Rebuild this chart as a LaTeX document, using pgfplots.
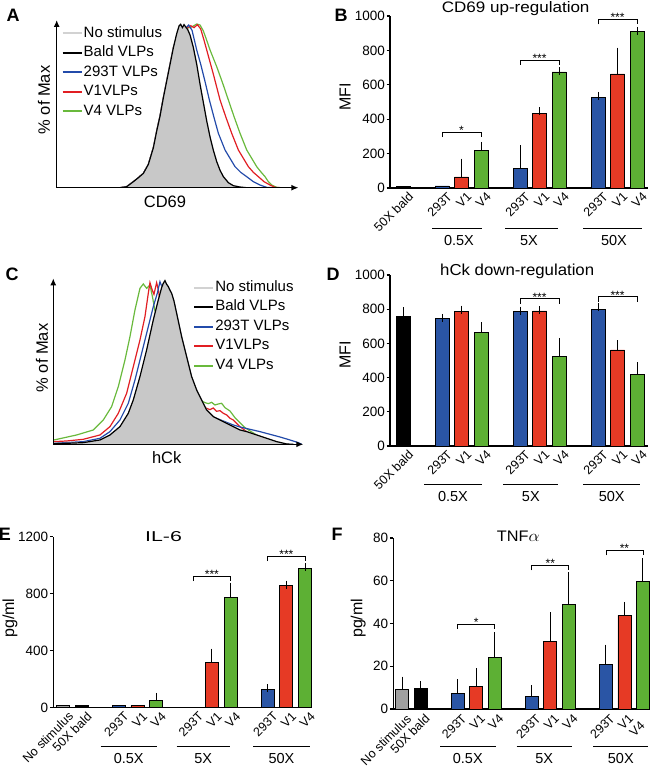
\documentclass[border=0pt]{standalone}
\usepackage{fontspec}
\setmainfont{Liberation Sans}
\usepackage{graphicx}
\usepackage{pgfplots}
\pgfplotsset{compat=1.18}
\usetikzlibrary{arrows.meta}
\definecolor{cblue}{RGB}{42,85,165}
\definecolor{cred}{RGB}{230,58,37}
\definecolor{cgreen}{RGB}{93,176,52}
\definecolor{cgray}{RGB}{160,160,160}
\definecolor{hblue}{RGB}{35,75,170}
\definecolor{hred}{RGB}{225,30,35}
\definecolor{hgreen}{RGB}{105,185,60}
\definecolor{hfill}{RGB}{200,200,200}
\definecolor{hline}{RGB}{210,210,210}
\newcommand\lf{\bfseries\fontsize{18}{19}\selectfont}
\newcommand\gf{\fontsize{14.5}{16}\selectfont}
\newcommand\yf{\fontsize{16}{17}\selectfont}
\newcommand\hlf{\fontsize{16.5}{18}\selectfont}
\newcommand\legf{\fontsize{15}{16}\selectfont}
\newcommand\starfont{\fontsize{12}{12}\selectfont}
\newcommand\ytf{\fontsize{13.5}{14}\selectfont}
\newcommand\xtf{\fontsize{12.5}{13}\selectfont}
\newcommand\ttf{\fontsize{16}{17}\selectfont}
\pgfplotsset{
  hist/.style={scale only axis, axis lines=left, xtick=\empty, ytick=\empty, ymin=0,
    axis on top,
    axis line style={line width=1.3pt, -{Latex[length=7pt,width=6pt]}},
    legend image code/.code={\draw[#1] (0pt,0pt) -- (19pt,0pt);},
    legend cell align=left,
    every axis plot/.append style={line width=1.2pt, no marks}},
  bars/.style={scale only axis, axis x line*=bottom, axis y line*=left,
    x axis line style={-}, y axis line style={-},
    axis line style={line width=1.2pt},
    ymin=0, clip=false,
    tick align=outside, major tick length=3.5pt,
    ytick style={line width=1.2pt, black}, xtick style={draw=none},
    yticklabel style={font=\ytf, inner sep=1.5pt},
    xticklabel style={font=\xtf, rotate=45, anchor=north east, inner sep=0.5pt, xshift=4pt, yshift=-2.5pt},
    /pgf/number format/assume math mode=true,
    /pgf/number format/1000 sep={},
    scaled y ticks=false},
  bb/.style={ybar, bar shift=0pt, draw=black, line width=0.8pt, fill=#1,
    /pgfplots/error bars/y dir=plus, /pgfplots/error bars/y explicit,
    /pgfplots/error bars/error bar style={line width=1pt, black},
    /pgfplots/error bars/error mark options={black, line width=1pt, mark size=4pt}},
}
\newcommand\bracket[4]{% x1, x2, y, stars
  \draw[line width=0.7pt] ([yshift=-5pt]axis cs:#1,#3) -- (axis cs:#1,#3) -- (axis cs:#2,#3) -- ([yshift=-5pt]axis cs:#2,#3);
  \node[anchor=base, inner sep=0pt, font=\starfont] at ([yshift=-2.5pt]axis cs:{(#1+#2)/2},#3) {#4};}
\begin{document}
\begin{tikzpicture}
\path[use as bounding box] (0,0) rectangle (650pt,-768pt);

% ---------------- Panel A ----------------
\begin{axis}[hist, at={(56.7pt,-187.7pt)}, anchor=south west, width=241.7pt, height=167.7pt,
  xmin=170, xmax=895, ymax=503,
  legend style={draw=none, fill=none, at={(rel axis cs:0.02,0.97)}, anchor=north west,
    font=\legf, row sep=3pt, inner sep=0pt,
    nodes={inner sep=1pt, text height=11pt, text depth=3.5pt}}]
\addlegendimage{hline, line width=2pt}\addlegendentry{No stimulus}
\addlegendimage{black, line width=2pt}\addlegendentry{Bald VLPs}
\addlegendimage{hblue, line width=2pt}\addlegendentry{293T VLPs}
\addlegendimage{hred, line width=2pt}\addlegendentry{V1VLPs}
\addlegendimage{hgreen, line width=2pt}\addlegendentry{V4 VLPs}
\addplot[hgreen, forget plot] coordinates {(360,0)(380,3)(400,18)(415,30)(430,43)(445,70)(460,120)(470,170)(480,215)(490,270)(500,320)(510,370)(520,420)(530,450)(545,470)(560,478)(575,482)(590,491)(600,488)(610,470)(620,442)(630,413)(650,363)(668,313)(685,263)(702,213)(720,163)(740,113)(755,88)(770,63)(782,48)(795,33)(805,18)(815,8)(830,1)(845,0)};
\addplot[hred, forget plot] coordinates {(360,0)(380,3)(400,18)(415,30)(430,43)(445,70)(460,120)(470,170)(480,215)(490,270)(500,320)(510,370)(520,420)(530,450)(545,470)(560,478)(572,486)(582,480)(592,489)(602,476)(612,442)(620,413)(640,340)(660,263)(678,210)(695,163)(715,113)(730,88)(745,63)(760,46)(775,33)(792,18)(810,8)(825,1)(840,0)};
\addplot[hblue, forget plot] coordinates {(360,0)(380,3)(400,18)(415,30)(430,43)(445,70)(460,120)(470,170)(480,215)(490,270)(500,320)(510,370)(520,420)(530,455)(540,476)(550,484)(558,480)(566,488)(576,472)(590,413)(602,370)(615,318)(628,263)(642,210)(655,163)(675,113)(690,88)(705,63)(722,46)(740,33)(760,18)(780,8)(800,1)(820,0)};
\addplot[fill=hfill, draw=hline, forget plot] coordinates {(360,0)(380,3)(400,18)(415,30)(430,43)(445,70)(460,120)(470,170)(480,215)(490,270)(500,320)(510,370)(520,420)(530,462)(537,485)(542,490)(547,480)(552,489)(557,482)(563,474)(570,458)(580,420)(590,370)(600,310)(610,255)(620,200)(630,152)(640,112)(650,78)(660,52)(670,33)(685,15)(700,6)(720,2)(740,0)} \closedcycle;
\addplot[black, forget plot] coordinates {(360,0)(380,3)(400,18)(415,30)(430,43)(445,70)(460,120)(470,170)(480,215)(490,270)(500,320)(510,370)(520,420)(530,462)(537,485)(542,490)(547,480)(552,489)(557,482)(563,474)(570,458)(580,420)(590,370)(600,310)(610,255)(620,200)(630,152)(640,112)(650,78)(660,52)(670,33)(685,15)(700,6)(720,2)(740,0)};
\end{axis}
\node[font=\lf] at (13pt,-15pt) {A};
\node[font=\hlf] at (165pt,-202pt) {CD69};
\node[font=\hlf, rotate=90] at (44pt,-100pt) {\% of Max};

% ---------------- Panel C ----------------
\begin{axis}[hist, at={(53.3pt,-444.3pt)}, anchor=south west, width=250pt, height=166pt,
  xmin=160, xmax=910, ymax=498,
  legend style={draw=none, fill=none, at={(rel axis cs:0.559,0.995)}, anchor=north west,
    font=\legf, row sep=3pt, inner sep=0pt,
    nodes={inner sep=1pt, text height=11pt, text depth=3.5pt}}]
\addlegendimage{hline, line width=2pt}\addlegendentry{No stimulus}
\addlegendimage{black, line width=2pt}\addlegendentry{Bald VLPs}
\addlegendimage{hblue, line width=2pt}\addlegendentry{293T VLPs}
\addlegendimage{hred, line width=2pt}\addlegendentry{V1VLPs}
\addlegendimage{hgreen, line width=2pt}\addlegendentry{V4 VLPs}
\addplot[hgreen, forget plot] coordinates {(162,13)(230,28)(280,43)(310,73)(335,113)(355,173)(375,253)(390,323)(405,403)(420,468)(430,481)(440,468)(450,478)(458,440)(465,400)(480,395)(500,390)(520,380)(535,360)(545,318)(560,258)(575,198)(590,158)(605,130)(615,125)(625,122)(635,126)(645,118)(655,121)(665,123)(675,110)(690,100)(705,80)(720,65)(735,50)(750,40)(770,28)(800,16)(830,6)(860,0)};
\addplot[hred, forget plot] coordinates {(162,8)(200,10)(250,15)(300,28)(330,53)(355,93)(380,153)(400,233)(420,313)(435,383)(445,453)(450,485)(456,465)(462,450)(470,485)(476,460)(480,423)(490,425)(500,420)(515,410)(530,385)(545,318)(560,258)(575,198)(590,158)(600,135)(610,112)(620,108)(630,104)(640,109)(650,99)(660,101)(670,93)(680,88)(690,78)(700,73)(710,63)(720,53)(740,38)(770,26)(800,16)(830,6)(860,0)};
\addplot[hblue, forget plot] coordinates {(162,3)(250,8)(300,18)(330,38)(360,73)(385,123)(405,193)(425,273)(445,353)(460,413)(472,453)(480,488)(486,472)(492,466)(500,476)(507,468)(515,450)(522,427)(530,390)(545,320)(560,260)(575,200)(590,160)(605,130)(620,100)(640,82)(660,74)(680,66)(700,58)(720,52)(750,45)(780,38)(810,30)(840,22)(870,13)(895,5)(905,0)};
\addplot[fill=hfill, draw=hline, forget plot] coordinates {(162,2)(200,3)(250,5)(300,13)(330,28)(360,53)(385,93)(400,133)(420,203)(440,283)(460,373)(475,433)(485,470)(490,483)(495,491)(500,480)(505,473)(510,462)(515,453)(522,430)(530,393)(545,323)(560,263)(575,203)(590,163)(605,133)(620,103)(640,83)(660,73)(680,63)(700,53)(720,43)(740,38)(770,28)(800,18)(830,8)(860,1)(880,0)} \closedcycle;
\addplot[black, forget plot] coordinates {(162,2)(200,3)(250,5)(300,13)(330,28)(360,53)(385,93)(400,133)(420,203)(440,283)(460,373)(475,433)(485,470)(490,483)(495,491)(500,480)(505,473)(510,462)(515,453)(522,430)(530,393)(545,323)(560,263)(575,203)(590,163)(605,133)(620,103)(640,83)(660,73)(680,63)(700,53)(720,43)(740,38)(770,28)(800,18)(830,8)(860,1)(880,0)};
\end{axis}
\node[font=\lf] at (12pt,-274pt) {C};
\node[font=\hlf] at (166.7pt,-458pt) {hCk};
\node[font=\hlf, rotate=90] at (42pt,-358pt) {\% of Max};

% ---------------- Panel B ----------------
\begin{axis}[bars, at={(390pt,-188pt)}, anchor=south west, width=258pt, height=172pt,
  xmin=-0.67, xmax=12.56, ymax=1000, ytick={0,200,...,1000},
  xtick={0,2,3,4,6,7,8,10,11,12},
  xticklabels={50X bald,293T,V1,V4,293T,V1,V4,293T,V1,V4}]
\addplot[bar width=14pt, bb=black] coordinates {(0,12)};
\addplot[bar width=14pt, bb=cblue] coordinates {(2,12) (6,116) +- (0,109) (10,526) +- (0,10)};
\addplot[bar width=14pt, bb=cred] coordinates {(3,64) +- (0,83) (7,435) +- (0,12) (11,663) +- (0,130)};
\addplot[bar width=14pt, bb=cgreen] coordinates {(4,220) +- (0,25) (8,675) +- (0,3) (12,908) +- (0,6)};
\bracket{2}{4}{325}{*}
\bracket{6}{8}{745}{***}
\bracket{10}{12}{980}{***}
\end{axis}
\node[font=\lf] at (341pt,-15pt) {B};
\node[anchor=base west, inner sep=0pt] at (441.7pt,-12.5pt) {\resizebox{147.6pt}{11pt}{\ttf CD69 up-regulation}};
\node[font=\yf, rotate=90] at (345pt,-96.7pt) {MFI};
\draw[line width=0.6pt] (432pt,-228pt) -- (482pt,-228pt);
\draw[line width=0.6pt] (505pt,-228pt) -- (558pt,-228pt);
\draw[line width=0.6pt] (583pt,-228pt) -- (642pt,-228pt);
\node[font=\gf] at (459pt,-241pt) {0.5X};
\node[font=\gf] at (529pt,-241pt) {5X};
\node[font=\gf] at (614pt,-241pt) {50X};

% ---------------- Panel D ----------------
\begin{axis}[bars, at={(390pt,-446pt)}, anchor=south west, width=258pt, height=171pt,
  xmin=-0.67, xmax=12.56, ymax=1000, ytick={0,200,...,1000},
  xtick={0,2,3,4,6,7,8,10,11,12},
  xticklabels={50X bald,293T,V1,V4,293T,V1,V4,293T,V1,V4}]
\addplot[bar width=14pt, bb=black] coordinates {(0,760) +- (0,27)};
\addplot[bar width=14pt, bb=cblue] coordinates {(2,745) +- (0,4) (6,787) +- (0,4) (10,800) +- (0,10)};
\addplot[bar width=14pt, bb=cred] coordinates {(3,787) +- (0,10) (7,790) +- (0,4) (11,562) +- (0,32)};
\addplot[bar width=14pt, bb=cgreen] coordinates {(4,663) +- (0,38) (8,526) +- (0,83) (12,418) +- (0,48)};
\bracket{6}{8}{862}{***}
\bracket{10}{12}{873}{***}
\end{axis}
\node[font=\lf] at (333pt,-274pt) {D};
\node[anchor=base west, inner sep=0pt] at (440pt,-275pt) {\resizebox{154pt}{11.5pt}{\ttf hCk down-regulation}};
\node[font=\yf, rotate=90] at (345pt,-355pt) {MFI};
\draw[line width=0.6pt] (424.3pt,-484pt) -- (481.7pt,-484pt);
\draw[line width=0.6pt] (503.3pt,-484pt) -- (558.3pt,-484pt);
\draw[line width=0.6pt] (583.3pt,-484pt) -- (640pt,-484pt);
\node[font=\gf] at (453pt,-496.5pt) {0.5X};
\node[font=\gf] at (530.8pt,-496.5pt) {5X};
\node[font=\gf] at (611.7pt,-496.5pt) {50X};

% ---------------- Panel E ----------------
\begin{axis}[bars, at={(53.3pt,-707.7pt)}, anchor=south west, width=258.4pt, height=171pt,
  xmin=-0.52, xmax=13.36, ymax=1200, ytick={0,400,800,1200},
  xtick={0,1,3,4,5,7,8,9,11,12,13},
  xticklabels={No stimulus,50X bald,293T,V1,V4,293T,V1,V4,293T,V1,V4}]
\addplot[bar width=13pt, bb=cgray] coordinates {(0,15)};
\addplot[bar width=13pt, bb=black] coordinates {(1,15)};
\addplot[bar width=13pt, bb=cblue] coordinates {(3,15) (11,131) +- (0,4)};
\addplot[bar width=13pt, bb=cred] coordinates {(4,15) (8,315) +- (0,72) (12,856) +- (0,8)};
\addplot[bar width=13pt, bb=cgreen] coordinates {(5,48) +- (0,28) (9,772) +- (0,76) (13,978) +- (0,7)};
\bracket{7}{9}{924}{***}
\bracket{11}{13}{1064}{***}
\end{axis}
\node[font=\lf] at (5pt,-534pt) {E};
\node[anchor=base west, inner sep=0pt] at (145pt,-541.7pt) {\resizebox{36.7pt}{10pt}{\ttf IL-6}};
\node[font=\yf, rotate=90] at (10pt,-618pt) {pg/ml};
\draw[line width=0.6pt] (100.7pt,-746.7pt) -- (156.7pt,-746.7pt);
\draw[line width=0.6pt] (176.7pt,-746.7pt) -- (230pt,-746.7pt);
\draw[line width=0.6pt] (253pt,-746.7pt) -- (310pt,-746.7pt);
\node[font=\gf] at (128.7pt,-758.5pt) {0.5X};
\node[font=\gf] at (203.3pt,-758.5pt) {5X};
\node[font=\gf] at (281.5pt,-758.5pt) {50X};

% ---------------- Panel F ----------------
\begin{axis}[bars, at={(393.3pt,-709pt)}, anchor=south west, width=256.7pt, height=171pt,
  xmin=-0.47, xmax=13.38, ymax=80, ytick={0,20,...,80},
  xtick={0,1,3,4,5,7,8,9,11,12,13},
  xticklabels={No stimulus,50X bald,293T,V1,V4,293T,V1,V4,293T,V1,{V4\hspace*{10pt}}},
  xticklabel style={xshift=-1.5pt}]
\addplot[bar width=13pt, bb=cgray] coordinates {(0,9.3) +- (0,4)};
\addplot[bar width=13pt, bb=black] coordinates {(1,9.6) +- (0,1.5)};
\addplot[bar width=13pt, bb=cblue] coordinates {(3,7.3) +- (0,4.8) (7,5.7) +- (0,3.5) (11,21) +- (0,7.3)};
\addplot[bar width=13pt, bb=cred] coordinates {(4,10.6) +- (0,6.5) (8,31.5) +- (0,12) (12,43.8) +- (0,4.5)};
\addplot[bar width=13pt, bb=cgreen] coordinates {(5,24) +- (0,10) (9,49) +- (0,13) (13,59.5) +- (0,9.2)};
\bracket{3}{5}{39.8}{*}
\bracket{7}{9}{67.2}{**}
\bracket{11}{13}{74.2}{**}
\end{axis}
\node[font=\lf] at (337pt,-534pt) {F};
\node[anchor=base west, inner sep=0pt] at (496.7pt,-541.7pt) {\resizebox{42.7pt}{10.5pt}{\ttf TNF$\alpha$}};
\node[font=\yf, rotate=90] at (358.3pt,-618.3pt) {pg/ml};
\draw[line width=0.6pt] (440pt,-746.7pt) -- (495.7pt,-746.7pt);
\draw[line width=0.6pt] (516.7pt,-746.7pt) -- (571.7pt,-746.7pt);
\draw[line width=0.6pt] (593.3pt,-746.7pt) -- (648.3pt,-746.7pt);
\node[font=\gf] at (467.8pt,-758.5pt) {0.5X};
\node[font=\gf] at (544.2pt,-758.5pt) {5X};
\node[font=\gf] at (620.8pt,-758.5pt) {50X};
\end{tikzpicture}
\end{document}
